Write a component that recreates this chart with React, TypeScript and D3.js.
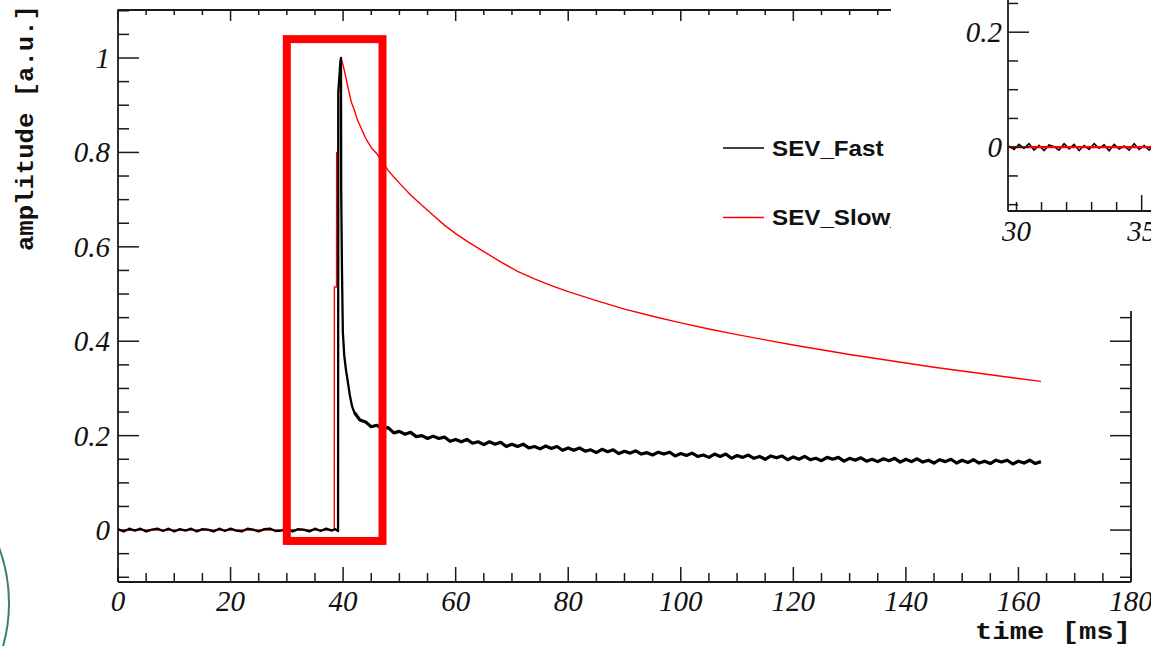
import React from "react";
import * as d3 from "d3";

type P = [number, number];

// ---- data (time in ms, amplitude in a.u.) ----
const fastBaseline: P[] = [
  [0, 0.002], [1, -0.003], [2, 0.003], [3, -0.001], [4, 0.003], [5, -0.003], [6, 0.001], [7, 0.003],
  [8, -0.002], [9, 0.003], [10, -0.003], [11, 0.002], [12, -0.001], [13, 0.003], [14, -0.003], [15, 0.002],
  [16, 0.001], [17, -0.003], [18, 0.003], [19, -0.002], [20, 0.003], [21, -0.001], [22, -0.003], [23, 0.003],
  [24, 0.001], [25, -0.003], [26, 0.002], [27, 0.003], [28, -0.002], [29, -0.001], [30, 0.003], [31, -0.003],
  [32, 0.002], [33, 0.001], [34, -0.003], [35, 0.003], [36, -0.002], [37, 0.003], [38, -0.001], [38.6, 0.002],
  [39.1, -0.002],
];
const fastPeak: P[] = [
  [39.15, 0.93], [39.5, 0.99], [39.62, 1.0], [39.66, 0.72], [39.8, 0.55], [39.95, 0.42], [40.2, 0.37],
  [40.5, 0.34], [40.8, 0.317], [41.2, 0.285], [41.6, 0.262],
];
const fastTail: P[] = [
  [42, .249], [43, .233], [44, .229], [45, .219], [46, .222], [47, .215], [48, .217], [49, .206], [50, .209],
  [51, .203], [52, .207], [53, .198], [54, .2], [55, .194], [56, .199], [57, .194], [58, .197], [59, .188],
  [60, .192], [61, .187], [62, .192], [63, .184], [64, .187], [65, .181], [66, .187], [67, .182], [68, .186],
  [69, .177], [70, .182], [71, .177], [72, .182], [73, .174], [74, .177], [75, .172], [76, .178], [77, .173],
  [78, .177], [79, .169], [80, .174], [81, .169], [82, .174], [83, .167], [84, .17], [85, .164], [86, .171],
  [87, .166], [88, .17], [89, .162], [90, .167], [91, .163], [92, .168], [93, .161], [94, .164], [95, .159],
  [96, .165], [97, .161], [98, .165], [99, .157], [100, .162], [101, .158], [102, .163], [103, .156],
  [104, .159], [105, .154], [106, .161], [107, .156], [108, .161], [109, .152], [110, .158], [111, .154],
  [112, .159], [113, .152], [114, .156], [115, .15], [116, .157], [117, .153], [118, .157], [119, .149],
  [120, .155], [121, .15], [122, .156], [123, .149], [124, .152], [125, .147], [126, .154], [127, .15],
  [128, .154], [129, .146], [130, .152], [131, .148], [132, .153], [133, .146], [134, .15], [135, .145],
  [136, .151], [137, .147], [138, .152], [139, .144], [140, .15], [141, .145], [142, .151], [143, .144],
  [144, .148], [145, .142], [146, .149], [147, .145], [148, .15], [149, .142], [150, .148], [151, .143],
  [152, .149], [153, .142], [154, .146], [155, .141], [156, .148], [157, .144], [158, .148], [159, .14],
  [160, .146], [161, .142], [162, .148], [163, .141], [164, .145],
];
const slowSeries: P[] = [
  [0, 0], [38.43, 0], [38.45, 0.515], [38.83, 0.515], [38.85, 0.8], [39.12, 0.8], [39.14, 0.93], [39.6, 0.93],
  [39.62, 1.0], [40.0, 0.985], [40.5, 0.958], [41, 0.93], [41.5, 0.905], [42, 0.89], [42.5, 0.87], [43, 0.857],
  [44, 0.83], [45, 0.81], [46, 0.797], [47, 0.78], [48, 0.762], [49, 0.748], [50, 0.735], [52, 0.71],
  [54, 0.688], [56, 0.667], [58, 0.646], [60, 0.628], [62, 0.612], [65, 0.59], [68, 0.568], [71, 0.548],
  [74, 0.532], [77, 0.518], [80, 0.505], [85, 0.486], [90, 0.468], [95, 0.453], [100, 0.439], [105, 0.426],
  [110, 0.414], [115, 0.403], [120, 0.392], [125, 0.382], [130, 0.372], [135, 0.363], [140, 0.354],
  [145, 0.345], [150, 0.337], [155, 0.329], [160, 0.321], [164, 0.315],
];
// zoomed (inset) view of the pre-trigger baseline, 30-35.5 ms
const fastZoom: P[] = [
  [29.7, 0.002], [29.9, -0.004], [30.1, 0.005], [30.3, -0.002], [30.5, 0.006], [30.7, -0.005], [30.9, 0.003],
  [31.1, -0.006], [31.3, 0.004], [31.5, 0.001], [31.7, -0.005], [31.9, 0.006], [32.1, -0.003], [32.3, 0.005],
  [32.5, -0.006], [32.7, 0.003], [32.9, -0.004], [33.1, 0.006], [33.3, -0.002], [33.5, 0.004], [33.7, -0.006],
  [33.9, 0.005], [34.1, -0.003], [34.3, 0.002], [34.5, -0.005], [34.7, 0.006], [34.9, -0.004], [35.1, 0.003],
  [35.3, -0.005], [35.5, 0.004],
];
const slowZoom: P[] = [[29.7, 0], [35.5, 0]];

const xTickLabels = [0, 20, 40, 60, 80, 100, 120, 140, 160, 180];
const yTickLabels = [0, 0.2, 0.4, 0.6, 0.8, 1];
const insetYLabels = [0, 0.2];
const insetXLabels = [30, 35];
const seriesNames = ["SEV_Fast", "SEV_Slow_"];
const seriesColors = ["#000000", "#ff0000"];
const zoomBox = { t0: 30, t1: 47, v0: -0.023, v1: 1.04 };

const W = 1151;
const H = 646;
const AX = "#1a1a1a";

export default function App() {
  const x = d3.scaleLinear().domain([0, 180]).range([118, 1131]);
  const y = d3.scaleLinear().domain([-0.11, 1.1017]).range([582, 10]);
  const xi = d3.scaleLinear().domain([29.66, 35.5]).range([1008, 1154.2]);
  const yi = d3.scaleLinear().domain([-0.111, 0.256]).range([211, 0]);

  const line = d3.line<P>().x((d) => x(d[0])).y((d) => y(d[1]));
  const lineI = d3.line<P>().x((d) => xi(d[0])).y((d) => yi(d[1]));
  const fastHead = [...fastBaseline, ...fastPeak, fastTail[0]];

  const xMinor = d3.range(0, 180.01, 5);
  const yMinor = d3.range(-0.1, 1.1001, 0.05).map((v) => Math.round(v * 100) / 100);
  const isMajorY = (v: number) => Math.abs(v / 0.2 - Math.round(v / 0.2)) < 1e-6;

  const tickFont = { fontFamily: "'Liberation Serif', 'Times New Roman', serif", fontStyle: "italic", fontSize: 29 };

  return (
    <svg width={W} height={H} style={{ position: "absolute", left: 0, top: 0 }}>
      <defs>
        <clipPath id="plotClip">
          <rect x={118} y={10} width={1013} height={572} />
        </clipPath>
      </defs>
      <rect x={0} y={0} width={W} height={H} fill="#fff" />

      {/* logo fragment bottom-left */}
      <circle cx={-151} cy={603} r={160} fill="none" stroke="#3f7d74" strokeWidth={2} />

      {/* frame */}
      <g stroke={AX} strokeWidth={1.8} fill="none">
        <line x1={118} y1={9.5} x2={118} y2={582} />
        <line x1={118} y1={582} x2={1131} y2={582} />
        <line x1={118} y1={10} x2={1131} y2={10} />
        <line x1={1131} y1={10} x2={1131} y2={582} />
      </g>
      <g stroke={AX} strokeWidth={1.5}>
        {xMinor.map((t) => {
          const major = t % 20 === 0;
          return (
            <g key={"xt" + t}>
              <line x1={x(t)} x2={x(t)} y1={582} y2={582 - (major ? 15 : 9)} />
              <line x1={x(t)} x2={x(t)} y1={10} y2={10 + (major ? 11 : 5)} />
            </g>
          );
        })}
        {yMinor.map((v) => {
          const major = isMajorY(v);
          return (
            <g key={"yt" + v}>
              <line x1={118} x2={118 + (major ? 21 : 11)} y1={y(v)} y2={y(v)} />
              <line x1={1131} x2={1131 - (major ? 21 : 11)} y1={y(v)} y2={y(v)} />
            </g>
          );
        })}
      </g>

      {/* tick labels */}
      <g {...tickFont} fill="#111">
        {xTickLabels.map((t) => (
          <text key={"xl" + t} x={x(t)} y={611} textAnchor="middle">
            {t}
          </text>
        ))}
        {yTickLabels.map((v) => (
          <text key={"yl" + v} x={110} y={y(v) + 10} textAnchor="end">
            {v}
          </text>
        ))}
      </g>

      {/* axis titles */}
      <text
        x={1131}
        y={639}
        textAnchor="end"
        fontFamily="'Liberation Mono', 'Courier New', monospace"
        fontWeight="bold"
        fontSize={24}
        textLength={156}
        lengthAdjust="spacingAndGlyphs"
        fill="#111"
      >
        time [ms]
      </text>
      <text
        transform="translate(33,5) rotate(-90)"
        textAnchor="end"
        fontFamily="'Liberation Mono', 'Courier New', monospace"
        fontWeight="bold"
        fontSize={24}
        textLength={246}
        lengthAdjust="spacingAndGlyphs"
        fill="#111"
      >
        amplitude [a.u.]
      </text>

      {/* data */}
      <g clipPath="url(#plotClip)" fill="none" strokeLinejoin="round">
        <path d={line(slowSeries) || ""} stroke={seriesColors[1]} strokeWidth={1.4} />
        <path d={line(fastHead) || ""} stroke={seriesColors[0]} strokeWidth={2.3} />
        <path d={line(fastTail) || ""} stroke={seriesColors[0]} strokeWidth={3.2} />
      </g>

      {/* zoom box */}
      <rect
        x={x(zoomBox.t0)}
        y={y(zoomBox.v1)}
        width={x(zoomBox.t1) - x(zoomBox.t0)}
        height={y(zoomBox.v0) - y(zoomBox.v1)}
        fill="none"
        stroke="#ff0000"
        strokeWidth={8}
      />

      {/* legend */}
      <g>
        {seriesNames.map((n, i) => {
          const ly = i === 0 ? 148 : 217.5;
          return (
            <g key={n}>
              <line x1={723} x2={764} y1={ly} y2={ly} stroke={seriesColors[i]} strokeWidth={1.5} />
              <text
                transform={`translate(772,${ly + 7.5}) scale(1.1,1)`}
                fontFamily="'Liberation Sans', Arial, sans-serif"
                fontWeight="bold"
                fontSize={22}
                fill="#111"
              >
                {n}
              </text>
            </g>
          );
        })}
      </g>

      {/* inset cover */}
      <rect x={891} y={0} width={W - 891} height={311} fill="#fff" />

      {/* inset */}
      <g>
        <g fill="none">
          <path d={lineI(fastZoom) || ""} stroke="#000" strokeWidth={1.6} />
          <path d={lineI(slowZoom) || ""} stroke="#ff0000" strokeWidth={2.2} />
        </g>
        <g stroke={AX} strokeWidth={1.8}>
          <line x1={1008} x2={1008} y1={0} y2={211} />
          <line x1={1008} x2={W} y1={211} y2={211} />
        </g>
        <g stroke={AX} strokeWidth={1.5}>
          {d3.range(-0.1, 0.2501, 0.05).map((v) => {
            const vv = Math.round(v * 100) / 100;
            const major = isMajorY(vv);
            return <line key={"iy" + vv} x1={1008} x2={1008 + (major ? 21 : 10)} y1={yi(vv)} y2={yi(vv)} />;
          })}
          {d3.range(30, 35.01, 1).map((t) => (
            <line key={"ix" + t} x1={xi(t)} x2={xi(t)} y1={211} y2={211 - (t % 5 === 0 && t !== 30 ? 16 : 9)} />
          ))}
        </g>
        <g {...tickFont} fill="#111">
          {insetYLabels.map((v) => (
            <text key={"iyl" + v} x={1002} y={yi(v) + 10} textAnchor="end">
              {v}
            </text>
          ))}
          {insetXLabels.map((t) => (
            <text key={"ixl" + t} x={xi(t)} y={241} textAnchor="middle">
              {t}
            </text>
          ))}
        </g>
      </g>
    </svg>
  );
}
